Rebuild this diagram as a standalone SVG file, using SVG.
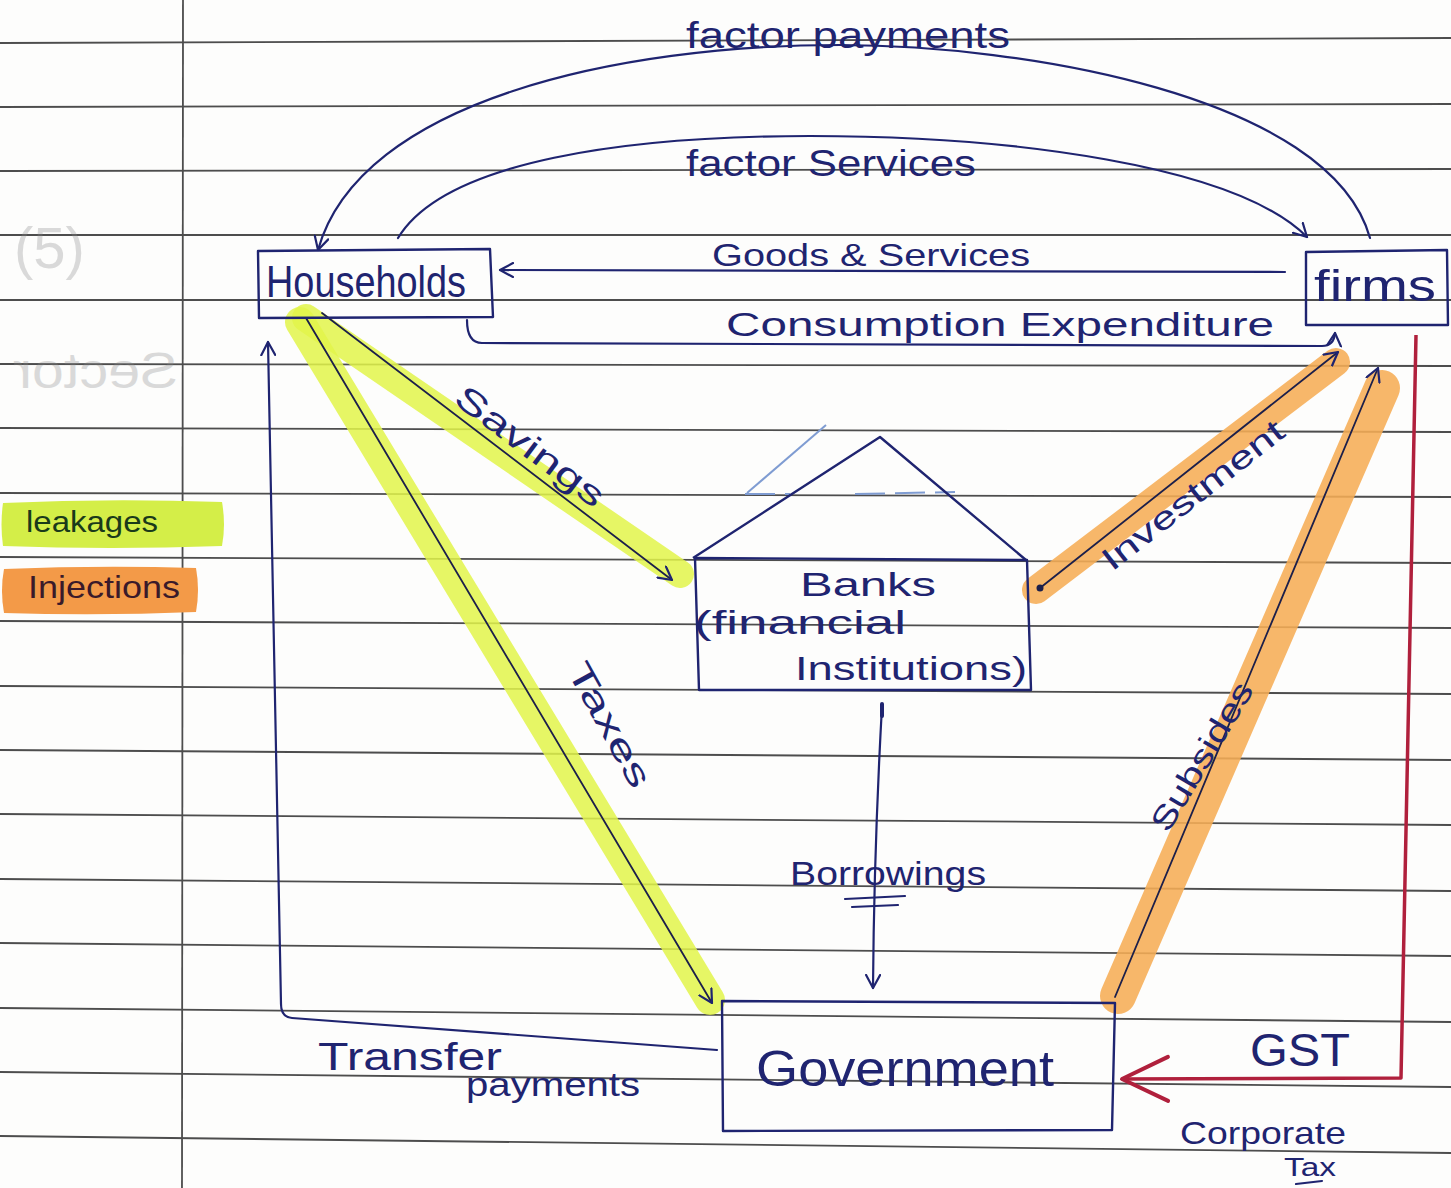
<svg xmlns="http://www.w3.org/2000/svg" width="1451" height="1188" viewBox="0 0 1451 1188">
  <style>
    .ink { fill: #1f2470; font-family: "Liberation Sans", Arial, sans-serif; }
    .rule { stroke: #4d4d4d; stroke-width: 1.8; fill: none; }
    .flow { stroke: #1f2470; stroke-width: 2.2; fill: none; stroke-linecap: round; stroke-linejoin: round; }
    .thin { stroke: #1c1f4a; stroke-width: 1.8; fill: none; stroke-linecap: round; }
    .box { stroke: #1f2470; stroke-width: 2.4; fill: none; stroke-linejoin: round; }
    .leak { stroke: #e2f44a; stroke-linecap: round; fill: none; opacity: 0.85; }
    .inj { stroke: #f6ad55; stroke-linecap: round; fill: none; opacity: 0.88; }
    .ghost { fill: #8a8a8a; opacity: 0.3; font-family: "Liberation Sans", Arial, sans-serif; }
  </style>
  <defs>
    <marker id="open" viewBox="0 0 16 16" refX="14" refY="8" markerWidth="16" markerHeight="16" markerUnits="userSpaceOnUse" orient="auto">
      <path d="M1,1 L14,8 L1,15" fill="none" stroke="#1f2470" stroke-width="2.2" stroke-linecap="round" stroke-linejoin="round"/>
    </marker>
    <marker id="openRed" viewBox="0 0 54 50" refX="50" refY="25" markerWidth="54" markerHeight="50" markerUnits="userSpaceOnUse" orient="auto">
      <path d="M4,3 L50,25 L4,47" fill="none" stroke="#b0203c" stroke-width="4" stroke-linecap="round" stroke-linejoin="round"/>
    </marker>
  </defs>

  <!-- paper -->
  <rect width="1451" height="1188" fill="#fdfdfc"/>

  <!-- ruled lines and margin -->
  <g id="paper-rules">
    <path class="rule" d="M0,43 L1451,38"/>
    <path class="rule" d="M0,107 L1451,104"/>
    <path class="rule" d="M0,171 L1451,169"/>
    <path class="rule" d="M0,235 L1451,235"/>
    <path class="rule" d="M0,300 L1451,300"/>
    <path class="rule" d="M0,364 L1451,366"/>
    <path class="rule" d="M0,428 L1451,432"/>
    <path class="rule" d="M0,493 L1451,497"/>
    <path class="rule" d="M0,557 L1451,563"/>
    <path class="rule" d="M0,621 L1451,628"/>
    <path class="rule" d="M0,686 L1451,694"/>
    <path class="rule" d="M0,750 L1451,760"/>
    <path class="rule" d="M0,814 L1451,825"/>
    <path class="rule" d="M0,879 L1451,891"/>
    <path class="rule" d="M0,943 L1451,956"/>
    <path class="rule" d="M0,1008 L1451,1022"/>
    <path class="rule" d="M0,1072 L1451,1087"/>
    <path class="rule" d="M0,1136 L1451,1153"/>
    <path class="rule" d="M183,0 L182,1188"/>
  </g>

  <!-- faint show-through from the reverse side -->
  <g id="show-through">
    <text class="ghost" x="14" y="268" font-size="58">(5)</text>
    <text class="ghost" transform="translate(178,388) scale(-1,1)" x="0" y="0" font-size="50" textLength="165" lengthAdjust="spacingAndGlyphs">Sector</text>
  </g>

  <!-- legend -->
  <g id="legend">
    <path d="M3,503 Q110,498 222,502 Q226,525 222,546 Q110,550 3,546 Q0,525 3,503 Z" fill="#d4ee48"/>
    <text class="ink" x="26" y="532" font-size="30" textLength="132" lengthAdjust="spacingAndGlyphs" style="fill:#1a3a1a">leakages</text>
    <path d="M4,569 Q100,565 196,568 Q200,590 196,612 Q100,616 4,613 Q0,590 4,569 Z" fill="#f39a48"/>
    <text class="ink" x="28" y="598" font-size="32" textLength="152" lengthAdjust="spacingAndGlyphs" style="fill:#3a1a2a">Injections</text>
  </g>

  <!-- highlighter bands under the leakage and injection flows -->
  <g id="highlights">
    <path class="leak" stroke-width="28" d="M306,318 L680,574"/>
    <path class="leak" stroke-width="30" d="M300,322 L710,1000"/>
    <path class="inj" stroke-width="28" d="M1036,590 L1336,362"/>
    <path class="inj" stroke-width="36" d="M1118,996 L1382,388"/>
  </g>

  <!-- connectors -->
  <g id="connectors">
    <path id="e-factor-payments" class="flow" d="M1370,238 C1330,95 1020,45 840,45 C620,45 360,100 318,250" marker-end="url(#open)"/>
    <path id="e-factor-services" class="flow" d="M398,238 C445,160 630,136 810,136 C1010,136 1235,165 1307,237" marker-end="url(#open)"/>
    <path id="e-goods" class="flow" d="M1285,272 L500,270" marker-end="url(#open)"/>
    <path id="e-consumption" class="flow" d="M467,320 Q467,343 482,343 L1322,346 Q1334,346 1335,333" marker-end="url(#open)"/>
    <path id="e-transfer" class="flow" d="M717,1050 L292,1018 Q281,1017 281,1004 L268,342" marker-end="url(#open)"/>
    <path id="e-savings" class="thin" d="M322,313 L672,580" marker-end="url(#open)"/>
    <path id="e-taxes" class="thin" d="M306,318 L712,1003" marker-end="url(#open)"/>
    <path id="e-investment" class="thin" d="M1040,588 L1338,352" marker-end="url(#open)"/>
    <circle cx="1040" cy="588" r="3.5" fill="#1c1f4a"/>
    <path id="e-subsides" class="thin" d="M1115,997 L1378,368" marker-end="url(#open)"/>
    <path id="e-borrowings" class="flow" d="M882,706 Q874,850 873,988" marker-end="url(#open)"/>
    <path d="M882,704 L882,716" stroke="#1f2470" stroke-width="4" stroke-linecap="round"/>
    <path id="e-gst" d="M1416,335 L1401,1078 L1122,1079" fill="none" stroke="#b0203c" stroke-width="3.5" stroke-linejoin="round" marker-end="url(#openRed)"/>
  </g>

  <!-- connector labels -->
  <g id="labels">
    <text class="ink" x="686" y="48" font-size="36" textLength="324" lengthAdjust="spacingAndGlyphs">factor payments</text>
    <text class="ink" x="686" y="176" font-size="36" textLength="290" lengthAdjust="spacingAndGlyphs">factor Services</text>
    <text class="ink" x="712" y="266" font-size="32" textLength="318" lengthAdjust="spacingAndGlyphs">Goods &amp; Services</text>
    <text class="ink" x="726" y="336" font-size="34" textLength="548" lengthAdjust="spacingAndGlyphs">Consumption Expenditure</text>
    <text class="ink" transform="translate(452,402) rotate(37)" font-size="34" textLength="178" lengthAdjust="spacingAndGlyphs">Savings</text>
    <text class="ink" transform="translate(566,670) rotate(61)" font-size="34" textLength="138" lengthAdjust="spacingAndGlyphs">Taxes</text>
    <text class="ink" transform="translate(1112,572) rotate(-38)" font-size="32" textLength="222" lengthAdjust="spacingAndGlyphs">Investment</text>
    <text class="ink" transform="translate(1168,834) rotate(-59)" font-size="32" textLength="168" lengthAdjust="spacingAndGlyphs">Subsides</text>
    <text class="ink" x="790" y="885" font-size="34" textLength="196" lengthAdjust="spacingAndGlyphs">Borrowings</text>
    <path class="flow" d="M845,899 L905,896 M852,907 L898,905" stroke-width="2"/>
    <text class="ink" x="318" y="1070" font-size="38" textLength="184" lengthAdjust="spacingAndGlyphs">Transfer</text>
    <text class="ink" x="466" y="1096" font-size="34" textLength="174" lengthAdjust="spacingAndGlyphs">payments</text>
    <text class="ink" x="1250" y="1066" font-size="46" textLength="100" lengthAdjust="spacingAndGlyphs">GST</text>
    <text class="ink" x="1180" y="1144" font-size="32" textLength="166" lengthAdjust="spacingAndGlyphs">Corporate</text>
    <text class="ink" x="1284" y="1176" font-size="26" textLength="52" lengthAdjust="spacingAndGlyphs">Tax</text>
    <path class="flow" d="M1296,1184 L1322,1181" stroke-width="2"/>
  </g>

  <!-- nodes -->
  <g id="households">
    <path class="box" d="M258,251 L490,249 L493,317 L259,318 Z"/>
    <text class="ink" x="266" y="297" font-size="44" textLength="200" lengthAdjust="spacingAndGlyphs">Households</text>
  </g>

  <g id="firms">
    <path class="box" d="M1306,252 L1447,250 L1448,325 L1306,325 Z"/>
    <text class="ink" x="1314" y="301" font-size="44" textLength="122" lengthAdjust="spacingAndGlyphs">firms</text>
  </g>

  <g id="banks">
    <!-- faint construction strokes left on the roof -->
    <path d="M747,493 L826,425" stroke="#7f9cd2" stroke-width="2" fill="none"/>
    <path d="M745,494 L790,494 M855,494 L955,492" stroke="#7f9cd2" stroke-width="2" fill="none" stroke-dasharray="30 10"/>
    <path class="box" d="M693,558 L880,437 L1026,560"/>
    <path class="box" d="M695,558 L1027,560 L1031,690 L699,690 Z"/>
    <text class="ink" x="800" y="596" font-size="34" textLength="136" lengthAdjust="spacingAndGlyphs">Banks</text>
    <text class="ink" x="694" y="634" font-size="34" textLength="212" lengthAdjust="spacingAndGlyphs">(financial</text>
    <text class="ink" x="795" y="680" font-size="34" textLength="232" lengthAdjust="spacingAndGlyphs">Institutions)</text>
  </g>

  <g id="government">
    <path class="box" d="M722,1001 L1115,1003 L1112,1130 L723,1131 Z"/>
    <text class="ink" x="756" y="1086" font-size="50" textLength="298" lengthAdjust="spacingAndGlyphs">Government</text>
  </g>
</svg>
